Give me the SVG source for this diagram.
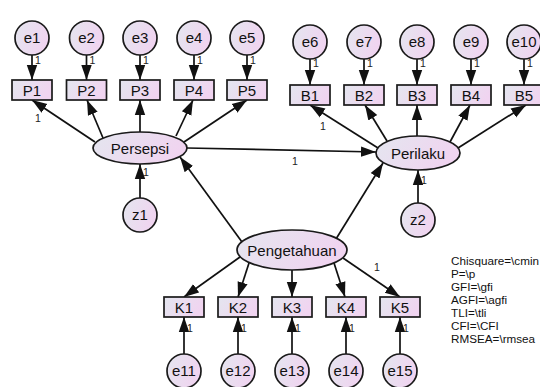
<svg xmlns="http://www.w3.org/2000/svg" width="540" height="387" viewBox="0 0 540 387">
<defs>
<linearGradient id="fill" x1="0" y1="0" x2="1" y2="0.3">
<stop offset="0" stop-color="#e4e6ef"/>
<stop offset="1" stop-color="#f0d4f0"/>
</linearGradient>
<marker id="ah" markerUnits="userSpaceOnUse" markerWidth="16" markerHeight="12" refX="15" refY="6" orient="auto">
<path d="M0,0.8 L15,6 L0,11.2 z" fill="#111"/>
</marker>
<style>
.n{fill:url(#fill);stroke:#1a1a1a;stroke-width:1.7}
.t{font-family:"Liberation Sans",Arial,sans-serif;font-size:15px;fill:#111;text-anchor:middle}
.w{font-family:"Liberation Sans",Arial,sans-serif;font-size:10.5px;fill:#222}
.c line{stroke:#111;stroke-width:1.7;marker-end:url(#ah)}
.f{font-family:"Liberation Sans",Arial,sans-serif;font-size:11.7px;fill:#111}
</style>
</defs>
<rect width="540" height="387" fill="#fff"/>

<g id="connectors" class="c">
<line x1="32" y1="55" x2="32" y2="80"/>
<line x1="86.5" y1="55" x2="86.5" y2="80"/>
<line x1="140" y1="55" x2="140" y2="80"/>
<line x1="194" y1="55" x2="194" y2="80"/>
<line x1="247" y1="55" x2="247" y2="80"/>
<line x1="310" y1="59" x2="310" y2="85"/>
<line x1="364" y1="59" x2="364" y2="85"/>
<line x1="417" y1="59" x2="417" y2="85"/>
<line x1="471" y1="59" x2="471" y2="85"/>
<line x1="524" y1="59" x2="524" y2="85"/>
<line x1="95" y1="142" x2="32" y2="100"/>
<line x1="103" y1="138" x2="87" y2="100"/>
<line x1="140" y1="132" x2="140" y2="100"/>
<line x1="176" y1="136" x2="193" y2="100"/>
<line x1="184" y1="142" x2="247" y2="100"/>
<line x1="378" y1="148" x2="310" y2="105"/>
<line x1="387" y1="141" x2="365" y2="105"/>
<line x1="417" y1="136" x2="417" y2="105"/>
<line x1="450" y1="142" x2="470" y2="105"/>
<line x1="458" y1="148" x2="526" y2="105"/>
<line x1="187" y1="148" x2="376" y2="152"/>
<line x1="242" y1="242" x2="180" y2="157"/>
<line x1="336" y1="239" x2="383" y2="163"/>
<line x1="140" y1="198" x2="140" y2="164"/>
<line x1="418" y1="203" x2="418" y2="170"/>
<line x1="240" y1="257" x2="184" y2="297"/>
<line x1="249" y1="263" x2="238" y2="297"/>
<line x1="292" y1="270" x2="292" y2="297"/>
<line x1="334" y1="263" x2="345" y2="297"/>
<line x1="343" y1="258" x2="400" y2="297"/>
<line x1="184" y1="354" x2="184" y2="317"/>
<line x1="238" y1="354" x2="238" y2="317"/>
<line x1="292" y1="354" x2="292" y2="317"/>
<line x1="346" y1="354" x2="346" y2="317"/>
<line x1="400" y1="354" x2="400" y2="317"/>
</g>

<g id="weights" class="w">
<text x="35" y="64">1</text>
<text x="89.5" y="64">1</text>
<text x="143" y="64">1</text>
<text x="197" y="64">1</text>
<text x="250" y="64">1</text>
<text x="313" y="67">1</text>
<text x="367" y="67">1</text>
<text x="420" y="67">1</text>
<text x="474" y="67">1</text>
<text x="527" y="67">1</text>
<text x="35" y="122">1</text>
<text x="320" y="130">1</text>
<text x="292" y="165">1</text>
<text x="143" y="176">1</text>
<text x="421" y="184">1</text>
<text x="374" y="271">1</text>
<text x="187" y="332">1</text>
<text x="241" y="332">1</text>
<text x="295" y="332">1</text>
<text x="349" y="332">1</text>
<text x="403" y="332">1</text>
</g>

<g id="e1"><circle class="n" cx="32" cy="38" r="17"/><text class="t" x="32" y="43">e1</text></g>
<g id="e2"><circle class="n" cx="86.5" cy="38" r="17"/><text class="t" x="86.5" y="43">e2</text></g>
<g id="e3"><circle class="n" cx="140" cy="38" r="17"/><text class="t" x="140" y="43">e3</text></g>
<g id="e4"><circle class="n" cx="194" cy="38" r="17"/><text class="t" x="194" y="43">e4</text></g>
<g id="e5"><circle class="n" cx="247" cy="38" r="17"/><text class="t" x="247" y="43">e5</text></g>
<g id="P1"><rect class="n" x="12" y="80" width="40" height="20"/><text class="t" x="32" y="95.5">P1</text></g>
<g id="P2"><rect class="n" x="66.5" y="80" width="40" height="20"/><text class="t" x="86.5" y="95.5">P2</text></g>
<g id="P3"><rect class="n" x="120" y="80" width="40" height="20"/><text class="t" x="140" y="95.5">P3</text></g>
<g id="P4"><rect class="n" x="174" y="80" width="40" height="20"/><text class="t" x="194" y="95.5">P4</text></g>
<g id="P5"><rect class="n" x="227" y="80" width="40" height="20"/><text class="t" x="247" y="95.5">P5</text></g>

<g id="e6"><circle class="n" cx="310" cy="42" r="17"/><text class="t" x="310" y="47">e6</text></g>
<g id="e7"><circle class="n" cx="364" cy="42" r="17"/><text class="t" x="364" y="47">e7</text></g>
<g id="e8"><circle class="n" cx="417" cy="42" r="17"/><text class="t" x="417" y="47">e8</text></g>
<g id="e9"><circle class="n" cx="471" cy="42" r="17"/><text class="t" x="471" y="47">e9</text></g>
<g id="e10"><circle class="n" cx="524" cy="42" r="17"/><text class="t" x="524" y="47">e10</text></g>
<g id="B1"><rect class="n" x="290" y="85" width="40" height="20"/><text class="t" x="310" y="100.5">B1</text></g>
<g id="B2"><rect class="n" x="344" y="85" width="40" height="20"/><text class="t" x="364" y="100.5">B2</text></g>
<g id="B3"><rect class="n" x="397" y="85" width="40" height="20"/><text class="t" x="417" y="100.5">B3</text></g>
<g id="B4"><rect class="n" x="451" y="85" width="40" height="20"/><text class="t" x="471" y="100.5">B4</text></g>
<g id="B5"><rect class="n" x="504" y="85" width="40" height="20"/><text class="t" x="524" y="100.5">B5</text></g>

<g id="Persepsi"><ellipse class="n" cx="140" cy="148" rx="47" ry="16"/><text class="t" x="140" y="153.5">Persepsi</text></g>
<g id="Perilaku"><ellipse class="n" cx="418" cy="153" rx="42" ry="17"/><text class="t" x="418" y="158.5">Perilaku</text></g>
<g id="z1"><circle class="n" cx="140" cy="215" r="17"/><text class="t" x="140" y="220">z1</text></g>
<g id="z2"><circle class="n" cx="418" cy="220" r="17"/><text class="t" x="418" y="225">z2</text></g>
<g id="Pengetahuan"><ellipse class="n" cx="292" cy="250" rx="55" ry="20"/><text class="t" x="292" y="255.5">Pengetahuan</text></g>

<g id="K1"><rect class="n" x="164" y="297" width="40" height="20"/><text class="t" x="184" y="312.5">K1</text></g>
<g id="K2"><rect class="n" x="218" y="297" width="40" height="20"/><text class="t" x="238" y="312.5">K2</text></g>
<g id="K3"><rect class="n" x="272" y="297" width="40" height="20"/><text class="t" x="292" y="312.5">K3</text></g>
<g id="K4"><rect class="n" x="326" y="297" width="40" height="20"/><text class="t" x="346" y="312.5">K4</text></g>
<g id="K5"><rect class="n" x="380" y="297" width="40" height="20"/><text class="t" x="400" y="312.5">K5</text></g>
<g id="e11"><circle class="n" cx="184" cy="371" r="17"/><text class="t" x="184" y="376">e11</text></g>
<g id="e12"><circle class="n" cx="238" cy="371" r="17"/><text class="t" x="238" y="376">e12</text></g>
<g id="e13"><circle class="n" cx="292" cy="371" r="17"/><text class="t" x="292" y="376">e13</text></g>
<g id="e14"><circle class="n" cx="346" cy="371" r="17"/><text class="t" x="346" y="376">e14</text></g>
<g id="e15"><circle class="n" cx="400" cy="371" r="17"/><text class="t" x="400" y="376">e15</text></g>

<g id="fit" class="f">
<text x="451" y="265">Chisquare=\cmin</text>
<text x="451" y="278">P=\p</text>
<text x="451" y="291">GFI=\gfi</text>
<text x="451" y="304">AGFI=\agfi</text>
<text x="451" y="317">TLI=\tli</text>
<text x="451" y="330">CFI=\CFI</text>
<text x="451" y="343">RMSEA=\rmsea</text>
</g>
</svg>
